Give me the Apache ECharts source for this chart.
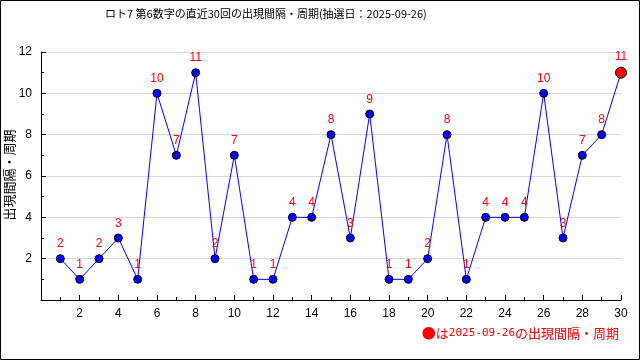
<!DOCTYPE html>
<html><head><meta charset="utf-8">
<script src="https://cdn.jsdelivr.net/npm/echarts@6/dist/echarts.min.js"></script>
<style>html,body{margin:0;padding:0;background:#fff}#c{width:640px;height:360px}</style>
</head><body><div id="c"></div>
<script>
const draws = [1,2,3,4,5,6,7,8,9,10,11,12,13,14,15,16,17,18,19,20,21,22,23,24,25,26,27,28,29,30];
const intervals = [2,1,2,3,1,10,7,11,2,7,1,1,4,4,8,3,9,1,1,2,8,1,4,4,4,10,3,7,8,11];
const titleText = 'ロト7 第6数字の直近30回の出現間隔・周期(抽選日：2025-09-26)';
const yName = '出現間隔・周期';
const legendMark = '●';
const legendHa = 'は';
const legendDate = '2025-09-26';
const legendRest = 'の出現間隔・周期';
const font = '"Liberation Sans","Noto Sans CJK JP",sans-serif';
const cjk = '"Noto Sans CJK JP",sans-serif';
const mono = '"DejaVu Sans Mono",monospace';

const data = draws.map((d,i)=>{
  const p = {value:[d, intervals[i]]};
  if (i === draws.length-1) {
    p.symbolSize = 11;
    p.itemStyle = {color:'#ff0000', borderColor:'#000', borderWidth:1};
  }
  return p;
});

const chart = echarts.init(document.getElementById('c'), null, {renderer:'canvas'});
chart.setOption({
  animation:false,
  backgroundColor:'#fff',
  title:{text:titleText, left:100, top:3, textStyle:{fontSize:11, fontWeight:'normal', color:'#000', fontFamily:cjk}},
  grid:{left:41, right:19, top:52, bottom:60, outerBoundsMode:'none', containLabel:false},
  xAxis:{type:'value', min:0, max:30, interval:2,
    axisLine:{show:true, lineStyle:{color:'#000'}},
    axisTick:{show:true, inside:true, length:5, lineStyle:{color:'#000'}},
    minorTick:{show:true, splitNumber:2, length:3, lineStyle:{color:'#000'}},
    splitLine:{show:false},
    axisLabel:{color:'#000', fontSize:12, fontFamily:font, margin:8, formatter:v=>v===0?'':String(v)}
  },
  yAxis:{type:'value', min:0, max:12, interval:2,
    axisLine:{show:true, lineStyle:{color:'#000'}},
    axisTick:{show:true, inside:true, length:5, lineStyle:{color:'#000'}},
    minorTick:{show:true, splitNumber:2, length:3, lineStyle:{color:'#000'}},
    splitLine:{show:true, lineStyle:{color:'#d8d8d8'}},
    axisLabel:{color:'#000', fontSize:12, fontFamily:font, margin:9, formatter:v=>v===0?'':String(v)}
  },
  series:[{type:'line', data:data, symbol:'circle', symbolSize:8,
    lineStyle:{color:'#0000ff', width:1},
    itemStyle:{color:'#0000ff', borderColor:'#000', borderWidth:1},
    label:{show:true, position:'top', distance:4, color:'#ff0000', fontSize:12, fontFamily:font},
    z:3
  }],
  graphic:[
    {type:'rect', shape:{x:0.5,y:0.5,width:639,height:359}, style:{fill:null, stroke:'#000', lineWidth:1}, silent:true},
    {type:'text', x:9, y:175, rotation:Math.PI/2, style:{
      text:yName, fill:'#000', fontSize:13, fontFamily:cjk, align:'center', verticalAlign:'middle'}},
    {type:'text', right:21, top:326, style:{
      text:'{m|'+legendMark+'}{h|'+legendHa+'}{d|'+legendDate+'}{t|'+legendRest+'}',
      rich:{m:{fill:'#ff0000', fontSize:14, fontFamily:cjk},
            h:{fill:'#ff0000', fontSize:13, fontFamily:cjk},
            d:{fill:'#ff0000', fontSize:11, fontFamily:mono},
            t:{fill:'#ff0000', fontSize:13, fontFamily:cjk}}
    }}
  ]
});
</script></body></html>
